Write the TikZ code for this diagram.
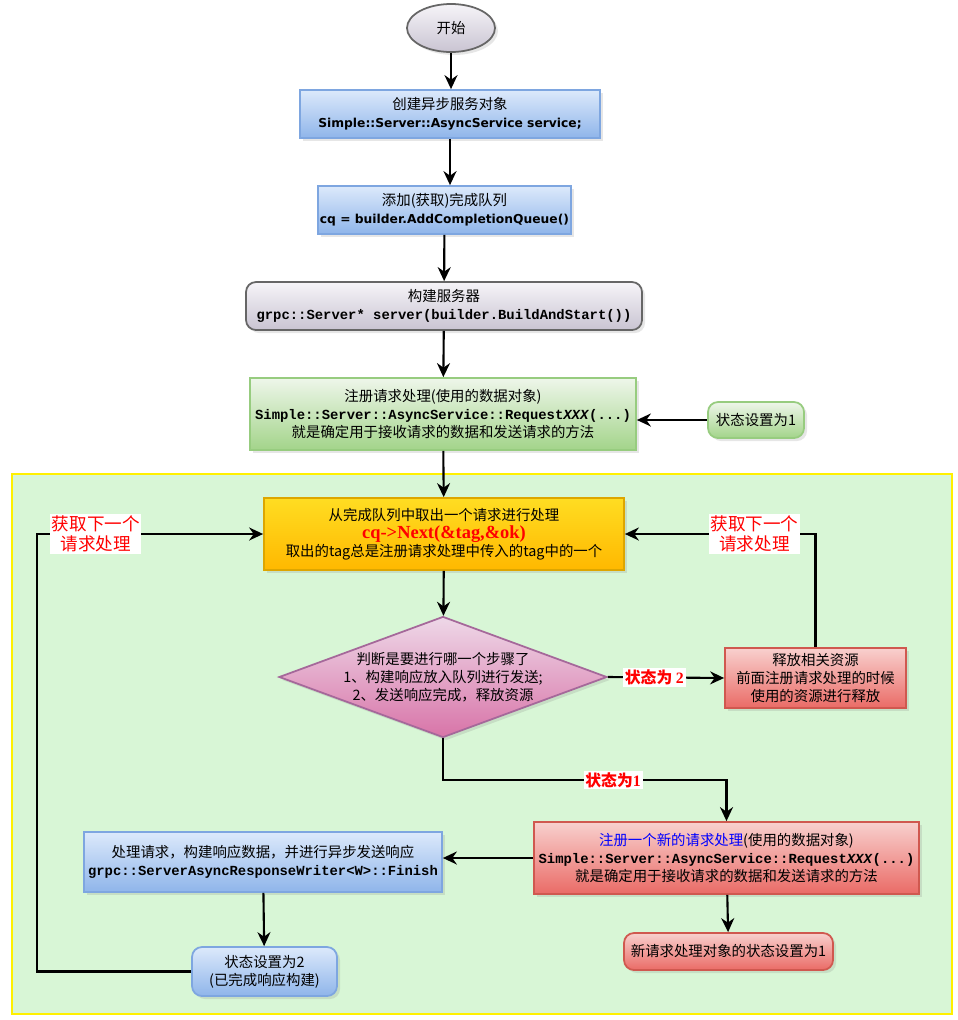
\documentclass[tikz,border=0pt]{standalone}
\usepackage{fontspec}
\setmainfont{Noto Sans CJK SC}
\newfontfamily\vsans{DejaVu Sans}
\newfontfamily\cour{Liberation Mono}
\newfontfamily\tms{Liberation Serif}
\usetikzlibrary{shapes.geometric,arrows.meta,shadows}
\definecolor{bluetop}{HTML}{DCE9FB}
\definecolor{bluebot}{HTML}{8FB5EA}
\definecolor{blueline}{HTML}{7EA6E0}
\definecolor{greentop}{HTML}{EEF6EA}
\definecolor{greenbot}{HTML}{A3D48A}
\definecolor{greenline}{HTML}{97CC7F}
\definecolor{redtop}{HTML}{F8D0CE}
\definecolor{redbot}{HTML}{EA6B66}
\definecolor{redline}{HTML}{D0584F}
\definecolor{greytop}{HTML}{F6F4F8}
\definecolor{greybot}{HTML}{C9C4D2}
\definecolor{pinktop}{HTML}{EED8E8}
\definecolor{pinkbot}{HTML}{D874A8}
\definecolor{pinkline}{HTML}{A5689A}
\definecolor{goldtop}{HTML}{FFDD22}
\definecolor{goldbot}{HTML}{FFB800}
\definecolor{goldline}{HTML}{DDA600}
\definecolor{loopfill}{HTML}{D8F6D6}
\definecolor{loopline}{HTML}{FFF000}
\newcommand{\codefont}{\cour\bfseries\fontsize{7.9}{10}\selectfont}
\tikzset{
  >=Stealth,
}

\begin{document}
\begin{tikzpicture}[
  every node/.style={font=\fontsize{8.2}{10.4}\selectfont},
  arr/.style={->,line width=1.2pt,>={Stealth[length=2.8mm,width=2.6mm]}},
  box/.style={draw,line width=1pt,align=center,inner sep=1pt,
    drop shadow={opacity=0.2,shadow xshift=0.6mm,shadow yshift=-0.6mm}},
  bluebox/.style={box,draw=blueline,top color=bluetop,bottom color=bluebot},
  greenbox/.style={box,draw=greenline,top color=greentop,bottom color=greenbot},
  redbox/.style={box,draw=redline,top color=redtop,bottom color=redbot},
  lab/.style={fill=white,inner sep=1pt,text=red,font=\fontsize{9}{10}\selectfont\bfseries},
  looplab/.style={fill=white,inner sep=1pt,text=red,align=center,font=\fontsize{10}{11.5}\selectfont}
]

\useasboundingbox (0,0) rectangle (19.16,-20.4);

% loop area
\draw[draw=loopline,fill=loopfill,line width=1.6pt] (0.24,-9.48) rectangle (19.04,-20.28);

\node[box,ellipse,draw=black!60,top color=greytop,bottom color=greybot,
  minimum width=1.76cm,minimum height=0.96cm] (start) at (9.02,-0.56) {开始};

\node[bluebox,minimum width=6cm,minimum height=0.96cm] (create) at (9.0,-2.28)
  {创建异步服务对象\\{\vsans\bfseries\fontsize{7}{9}\selectfont Simple::Server::AsyncService service;}};
\node[bluebox,minimum width=5.06cm,minimum height=0.96cm] (cq) at (8.89,-4.2)
  {添加(获取)完成队列\\{\vsans\bfseries\fontsize{7}{9}\selectfont cq = builder.AddCompletionQueue()}};
\node[box,rounded corners=2mm,draw=black!60,top color=greytop,bottom color=greybot,
  minimum width=7.92cm,minimum height=0.96cm] (build) at (8.88,-6.12)
  {构建服务器\\{\codefont grpc::Server* server(builder.BuildAndStart())}};
\node[greenbox,minimum width=7.72cm,minimum height=1.44cm] (reg) at (8.86,-8.28)
  {注册请求处理(使用的数据对象)\\{\codefont Simple::Server::AsyncService::Request\textit{XXX}(...)}\\就是确定用于接收请求的数据和发送请求的方法};
\node[greenbox,rounded corners=2mm,minimum width=1.92cm,minimum height=0.72cm] (set1) at (15.12,-8.4)
  {状态设置为1};

\node[box,draw=goldline,top color=goldtop,bottom color=goldbot,
  minimum width=7.2cm,minimum height=1.44cm] (next) at (8.88,-10.68)
  {从完成队列中取出一个请求进行处理\\{\tms\bfseries\fontsize{10.5}{11}\selectfont\color{red}cq->Next(\&tag,\&ok)}\\取出的tag总是注册请求处理中传入的tag中的一个};
\node[box,diamond,draw=pinkline,top color=pinktop,bottom color=pinkbot,
  minimum width=6.56cm,minimum height=2.42cm,inner xsep=-2cm,inner ysep=-0.6cm] (judge) at (8.86,-13.54)
  {判断是要进行哪一个步骤了\\1、构建响应放入队列进行发送;\\2、发送响应完成，释放资源};
\node[redbox,minimum width=3.62cm,minimum height=1.2cm] (release) at (16.31,-13.56)
  {释放相关资源\\前面注册请求处理的时候\\使用的资源进行释放};
\node[redbox,minimum width=7.7cm,minimum height=1.44cm] (newreg) at (14.53,-17.16)
  {{\color{blue}注册一个新的请求处理}(使用的数据对象)\\{\codefont Simple::Server::AsyncService::Request\textit{XXX}(...)}\\就是确定用于接收请求的数据和发送请求的方法};
\node[bluebox,minimum width=7.16cm,minimum height=1.2cm] (proc) at (5.26,-17.24)
  {处理请求，构建响应数据，并进行异步发送响应\\{\codefont grpc::ServerAsyncResponseWriter<W>::Finish}};
\node[bluebox,rounded corners=2mm,minimum width=2.9cm,minimum height=0.98cm] (set2) at (5.29,-19.43)
  {状态设置为2\\(已完成响应构建)};
\node[redbox,rounded corners=2mm,minimum width=4.18cm,minimum height=0.74cm] (newset1) at (14.57,-19.03)
  {新请求处理对象的状态设置为1};

\coordinate (lft) at (0.74,-10.68);
\coordinate (turn) at (8.86,-15.6);

\draw[arr] (start) -- (start |- create.north);
\draw[arr] (create.south) -- (create.south |- cq.north);
\draw[arr] (cq) -- (build);
\draw[arr] (build) -- (reg);
\draw[arr] (set1.west) -- (set1.west -| reg.east);
\draw[arr] (reg) -- (next);
\draw[arr] (next) -- (judge);
\draw[arr] (judge.east) -- node[lab,pos=0.4] {状态为 {\tms\bfseries 2}} (release.west);
\draw[arr] (judge.south) -- (turn) -- node[lab,pos=0.6] {状态为{\tms\bfseries 1}} (turn -| newreg.north) -- (newreg.north);
\draw[arr] (release.north) |- node[looplab,pos=0.66] {获取下一个\\请求处理} (next.east);
\draw[arr] (newreg.west) -- (newreg.west -| proc.east);
\draw[arr] (proc) -- (set2);
\draw[arr] (newreg) -- (newset1);
\draw[arr] (set2.west) -| (lft) -- node[looplab,pos=0.26] {获取下一个\\请求处理} (next.west);

\end{tikzpicture}
\end{document}
